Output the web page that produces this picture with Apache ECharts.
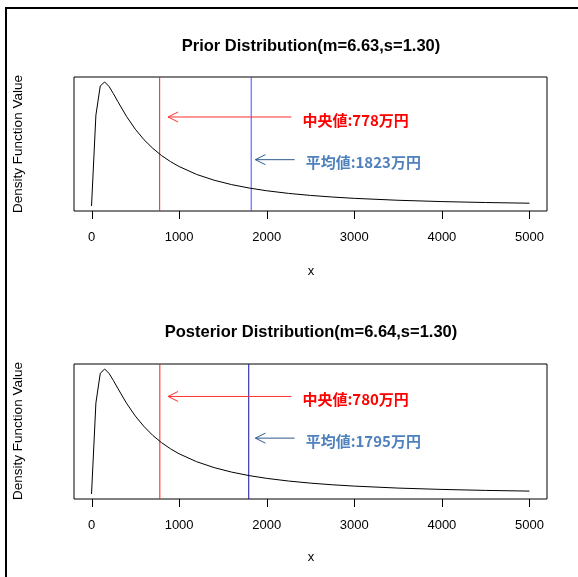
<!DOCTYPE html>
<html>
<head>
<meta charset="utf-8">
<script src="https://cdn.jsdelivr.net/npm/echarts@6/dist/echarts.min.js"></script>
<style>html,body{margin:0;padding:0;background:#fff}#c{width:578px;height:577px}</style>
</head>
<body>
<div id="c"></div>
<script>
// x sample points (万円)
const xValues = [0,50,100,150,200,250,300,400,500,600,700,800,900,1000,1200,1400,1600,1800,2000,2250,2500,2750,3000,3500,4000,4500,5000];
// density values (x 1e-4)
const priorDensity = [0,6.90,9.12,9.42,9.08,8.53,7.94,6.80,5.83,5.03,4.38,3.83,3.38,3.00,2.40,1.96,1.625,1.366,1.16,0.96,0.805,0.683,0.584,0.438,0.338,0.2665,0.214];
const postDensity  = [0,6.79,9.01,9.33,9.00,8.47,7.89,6.77,5.82,5.03,4.37,3.83,3.38,3.00,2.41,1.97,1.633,1.373,1.167,0.967,0.811,0.688,0.589,0.442,0.341,0.269,0.216];
const xTicks = [0,1000,2000,3000,4000,5000];
const titles = ['Prior Distribution(m=6.63,s=1.30)','Posterior Distribution(m=6.64,s=1.30)'];
const priorMedian = 778, priorMean = 1823;
const postMedian = 780, postMean = 1795;
const labelTexts = [['中央値:778万円','平均値:1823万円'],['中央値:780万円','平均値:1795万円']];
// arrow annotations: [tail x, tip x, density level]
const priorArrows = [[2282,874,6.76],[2319,1871,3.52]];
const postArrows  = [[2282,874,7.28],[2319,1871,4.17]];

const FONT = '"Liberation Sans", Arial, sans-serif';
const CJK = '"Noto Sans CJK JP", sans-serif';
const arrowColors = ['#ff3030', '#2f5a8f'];
const textColors = ['#ff0000', '#4f81bd'];
const medianColor = '#ff1a1a';
const meanColors = ['#4a4aff', '#1212a0'];

const chart = echarts.init(document.getElementById('c'), null, {renderer:'canvas'});

const grids = [
  {left:74, width:473, top:77, height:134},
  {left:74, width:473, top:364, height:135}
];

function yRange(arr){
  const m = Math.max.apply(null, arr);
  return {min: -0.04*m, max: 1.04*m};
}

function makeX(i){
  return {
    type:'value', gridIndex:i, min:-200, max:5200, position:'bottom',
    axisLine:{show:false, onZero:false},
    splitLine:{show:false},
    axisTick:{show:false},
    axisLabel:{show:true, customValues:xTicks, margin:20, fontFamily:FONT, fontSize:13, color:'#000',
      formatter: v => String(v)}
  };
}
function makeY(i, arr){
  const r = yRange(arr);
  return {type:'value', gridIndex:i, min:r.min, max:r.max, show:false, splitLine:{show:false}};
}

function arrowRenderer(texts){
  return function(params, api){
    const idx = params.dataIndex;
    const p1 = api.coord([api.value(0), api.value(2)]);
    const p2 = api.coord([api.value(1), api.value(2)]);
    const c = arrowColors[idx];
    return {type:'group', children:[
      {type:'line', shape:{x1:p1[0], y1:p1[1], x2:p2[0], y2:p2[1]}, style:{stroke:c, lineWidth:1}},
      {type:'polyline', shape:{points:[[p2[0]+10,p2[1]-5],[p2[0],p2[1]],[p2[0]+10,p2[1]+5]]}, style:{stroke:c, fill:null, lineWidth:1}},
      {type:'text', x:p1[0]+11, y:p1[1]+3, style:{text:texts[idx], fill:textColors[idx], font:'bold 15px ' + CJK, verticalAlign:'middle', align:'left'}}
    ]};
  };
}

// outward tick marks below each plot box, placed through the axis scale
function tickSeries(i, arr){
  const r = yRange(arr);
  return {
    type:'custom', xAxisIndex:i, yAxisIndex:i, clip:false, silent:true, z:4,
    data: xTicks.map(v => [v, r.min]),
    encode:{x:0, y:1},
    renderItem: function(params, api){
      const p = api.coord([api.value(0), api.value(1)]);
      const x = Math.round(p[0]) + 0.5;
      return {type:'line', shape:{x1:x, y1:p[1], x2:x, y2:p[1]+8}, style:{stroke:'#000', lineWidth:1}};
    }
  };
}

function densitySeries(i, arr){
  return {
    type:'line', xAxisIndex:i, yAxisIndex:i,
    data: xValues.map((x,k)=>[x, arr[k]]),
    showSymbol:false, symbol:'none', smooth:false,
    lineStyle:{color:'#000', width:1},
    animation:false, silent:true, z:3
  };
}
function vLine(i, x, arr, color){
  const r = yRange(arr);
  return {
    type:'line', xAxisIndex:i, yAxisIndex:i,
    data:[[x, r.min],[x, r.max]],
    showSymbol:false, symbol:'none',
    lineStyle:{color:color, width:1},
    animation:false, silent:true, z:2
  };
}

const option = {
  backgroundColor:'#fff',
  animation:false,
  grid: grids.map(g => Object.assign({show:true, borderColor:'#000', borderWidth:1, backgroundColor:'transparent'}, g)),
  title: [
    {text:titles[0], left:311, top:38, padding:0, textAlign:'center', textStyle:{fontFamily:FONT, fontSize:16.5, fontWeight:'bold', color:'#000'}},
    {text:titles[1], left:311, top:324, padding:0, textAlign:'center', textStyle:{fontFamily:FONT, fontSize:16.5, fontWeight:'bold', color:'#000'}}
  ],
  xAxis:[makeX(0), makeX(1)],
  yAxis:[makeY(0, priorDensity), makeY(1, postDensity)],
  series:[
    densitySeries(0, priorDensity),
    densitySeries(1, postDensity),
    vLine(0, priorMedian, priorDensity, medianColor),
    vLine(0, priorMean, priorDensity, meanColors[0]),
    vLine(1, postMedian, postDensity, medianColor),
    vLine(1, postMean, postDensity, meanColors[1]),
    tickSeries(0, priorDensity),
    tickSeries(1, postDensity),
    {type:'custom', xAxisIndex:0, yAxisIndex:0, data:priorArrows, renderItem:arrowRenderer(labelTexts[0]), encode:{x:[0,1], y:2}, clip:false, silent:true, z:5},
    {type:'custom', xAxisIndex:1, yAxisIndex:1, data:postArrows, renderItem:arrowRenderer(labelTexts[1]), encode:{x:[0,1], y:2}, clip:false, silent:true, z:5}
  ],
  graphic:[
    {type:'polyline', shape:{points:[[6,577],[6,8],[578,8]]}, style:{stroke:'#000', lineWidth:2, fill:null}, silent:true},
    {type:'text', x:311, y:271, style:{text:'x', font:'13px ' + FONT, fill:'#000', align:'center', verticalAlign:'middle'}},
    {type:'text', x:311, y:557, style:{text:'x', font:'13px ' + FONT, fill:'#000', align:'center', verticalAlign:'middle'}},
    {type:'text', x:18, y:144, rotation:Math.PI/2, style:{text:'Density Function Value', font:'13.5px ' + FONT, fill:'#000', align:'center', verticalAlign:'middle'}},
    {type:'text', x:18, y:431, rotation:Math.PI/2, style:{text:'Density Function Value', font:'13.5px ' + FONT, fill:'#000', align:'center', verticalAlign:'middle'}}
  ]
};
chart.setOption(option);
</script>
</body>
</html>
